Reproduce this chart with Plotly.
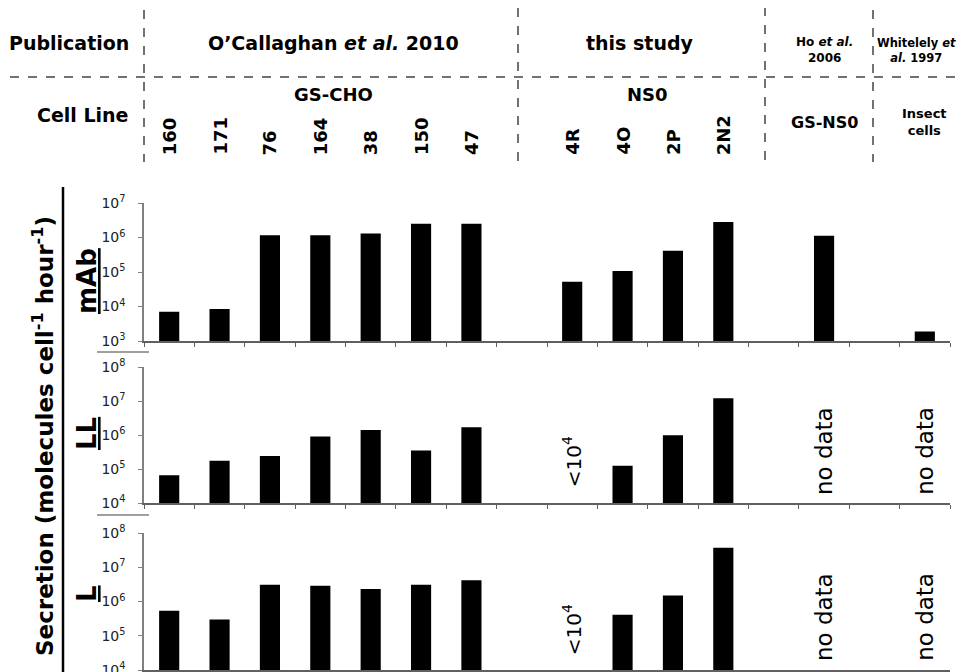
import plotly.graph_objects as go
from plotly.subplots import make_subplots

# categories along the x axis (blank slots keep the gaps between groups)
categories = ["160", "171", "76", "164", "38", "150", "47", "gap1",
              "4R", "4O", "2P", "2N2", "gap2", "GS-NS0", "gap3", "Insect"]
rotated_labels = ["160", "171", "76", "164", "38", "150", "47", "4R", "4O", "2P", "2N2"]

# secretion, molecules per cell per hour (None = no bar)
mab = [7.0e3, 8.5e3, 1.17e6, 1.17e6, 1.3e6, 2.5e6, 2.5e6, None,
       5.2e4, 1.07e5, 4.1e5, 2.8e6, None, 1.12e6, None, 1.9e3]
ll = [6.5e4, 1.74e5, 2.4e5, 9.1e5, 1.4e6, 3.5e5, 1.7e6, None,
      None, 1.24e5, 9.8e5, 1.2e7, None, None, None, None]
l = [5.4e5, 3.0e5, 3.1e6, 2.9e6, 2.3e6, 3.1e6, 4.2e6, None,
     None, 4.1e5, 1.5e6, 3.7e7, None, None, None, None]

panel_names = ["mAb", "LL", "L"]
y_ranges = [(3, 7), (4, 8), (4, 8)]

W, H = 965, 672
OFF = 8  # page body margin
ML = 144 - OFF
MR = W - (950 - OFF)


def yp(py):
    # screen pixel row -> paper fraction
    return 1 - (py - OFF) / H


def xp(px):
    # screen pixel column -> paper fraction
    return (px - OFF - ML) / (W - ML - MR)


def idx(name):
    # category axes read numeric-looking strings as indices, so pass the index
    return categories.index(name)


fig = make_subplots(rows=3, cols=1, shared_xaxes=False)

domains = [(yp(341), yp(203)), (yp(503), yp(367)), (yp(670), yp(533))]
series = [mab, ll, l]

for i, vals in enumerate(series):
    fig.add_trace(go.Bar(x=categories, y=vals, width=0.4,
                         marker=dict(color="black", line_width=0),
                         showlegend=False), row=i + 1, col=1)
    lo, hi = y_ranges[i]
    tv = [10 ** k for k in range(lo, hi + 1)]
    tt = ["10<sup>%d</sup>" % k for k in range(lo, hi + 1)]
    fig.update_yaxes(type="log", range=[lo, hi], domain=list(domains[i]),
                     tickvals=tv, ticktext=tt, ticks="outside", ticklen=4,
                     tickcolor="#808080", showline=True, linecolor="#808080",
                     linewidth=1.5, showgrid=False, zeroline=False, automargin=False,
                     tickfont=dict(family="DejaVu Sans", size=14, color="#222"),
                     ticklabelstandoff=10,
                     row=i + 1, col=1)
    fig.update_xaxes(type="category", categoryorder="array", categoryarray=categories,
                     range=[-0.5, 15.5], showticklabels=False, ticks="outside",
                     tickson="boundaries", ticklen=4, tickcolor="#606060",
                     showline=True, linecolor="#606060", linewidth=1.5,
                     showgrid=False, automargin=False, row=i + 1, col=1)

ann = []
bold = dict(family="DejaVu Sans", color="black")


def note(text, x, y, size, xref="paper", angle=0, xanchor="center", yanchor="middle", font=bold):
    ann.append(dict(text=text, x=x, y=y, xref=xref, yref="paper", textangle=angle,
                    xanchor=xanchor, yanchor=yanchor, showarrow=False,
                    font=dict(font, size=size)))


# header texts
note("<b>Publication</b>", xp(131), yp(43), 19, xanchor="right")
note("<b>Cell Line</b>", xp(131), yp(115), 19, xanchor="right")
note("<b>O’Callaghan <i>et al.</i> 2010</b>", xp(333), yp(43), 19)
note("<b>this study</b>", xp(640), yp(43), 19)
note("<b>Ho <i>et al.</i><br>2006</b>", xp(824), yp(50), 12)
note("<b>Whitelely <i>et</i><br><i>al.</i> 1997</b>", xp(916), yp(50), 11.5)
note("<b>GS-CHO</b>", xp(333), yp(95), 18)
note("<b>NS0</b>", xp(647), yp(95), 18)
note("<b>GS-NS0</b>", idx("GS-NS0"), yp(123), 16, xref="x")
note("<b>Insect<br>cells</b>", idx("Insect"), yp(122), 13, xref="x")

for lab in rotated_labels:
    note("<b>%s</b>" % lab, idx(lab), yp(157), 18, xref="x", angle=-90, yanchor="bottom")

# panel labels
panel_y = [281, 434, 594]
for name, py_ in zip(panel_names, panel_y):
    note("<b><u>%s</u></b>" % name, xp(87), yp(py_), 26, angle=-90)

# axis title
note("<b>Secretion (molecules cell<sup>-1</sup> hour<sup>-1</sup>)</b>", xp(43), yp(436), 23,
     angle=-90)

# notes inside panels
reg = dict(family="DejaVu Sans", color="black")
for xa, yc in [("x2", 462), ("x3", 630)]:
    note("<10<sup>4</sup>", idx("4R"), yp(yc), 20, xref=xa, angle=-90, font=reg)
for xa, yb in [("x2", 497), ("x3", 663)]:
    for c in ["GS-NS0", "Insect"]:
        note("no data", idx(c), yp(yb), 23, xref=xa, angle=-90, yanchor="bottom", font=reg)

shapes = []
dash = dict(color="#444444", width=1.5, dash="dash")
shapes.append(dict(type="line", xref="paper", yref="paper", x0=xp(10), x1=xp(965),
                   y0=yp(77), y1=yp(77), line=dash))
for px, top in [(144, 10), (518, 8), (765, 7), (873, 10)]:
    shapes.append(dict(type="line", xref="paper", yref="paper", x0=xp(px), x1=xp(px),
                       y0=yp(top), y1=yp(162), line=dash))
# bracket line and separators on the left
shapes.append(dict(type="line", xref="paper", yref="paper", x0=xp(63), x1=xp(63),
                   y0=yp(187), y1=yp(680), line=dict(color="black", width=2.5)))
for py_ in [352, 515]:
    shapes.append(dict(type="line", xref="paper", yref="paper", x0=xp(97), x1=xp(149),
                       y0=yp(py_), y1=yp(py_), line=dict(color="#808080", width=1.5)))

fig.update_layout(width=W, height=H, margin=dict(l=ML, r=MR, t=0, b=0, autoexpand=False),
                  plot_bgcolor="white", paper_bgcolor="white", bargap=0.6,
                  annotations=ann, shapes=shapes)

fig.write_html("out.html")
